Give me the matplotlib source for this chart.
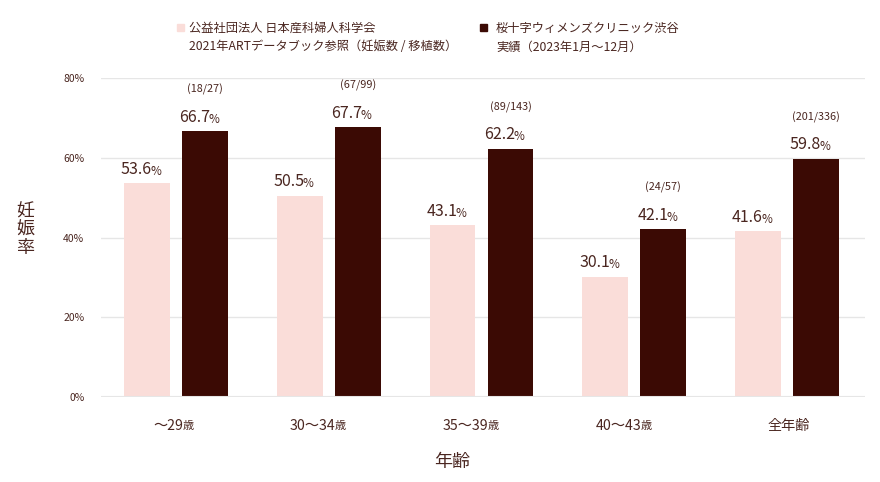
import numpy as np
import matplotlib
matplotlib.use('Agg')
import matplotlib.pyplot as plt
from matplotlib.patches import Rectangle

plt.rcParams['font.family'] = ['Noto Sans CJK JP', 'DejaVu Sans']

# data
categories = ['〜29', '30〜34', '35〜39', '40〜43', '全年齢']
cat_suffix = ['歳', '歳', '歳', '歳', '']
jsog_rate = [53.6, 50.5, 43.1, 30.1, 41.6]
clinic_rate = [66.7, 67.7, 62.2, 42.1, 59.8]
clinic_frac = ['(18/27)', '(67/99)', '(89/143)', '(24/57)', '(201/336)']
yticks = [0, 20, 40, 60, 80]

PINK = '#FADDD9'
DARK = '#3B0A04'
TXT = '#4A2620'
GRID = '#E6E6E6'

fig = plt.figure(figsize=(8.8, 4.82), dpi=100)
ax = fig.add_axes([0.1148, 0.1763, 0.8682, 0.6617])

x = np.arange(len(categories))
W = 0.30
ax.bar(x - 0.20, jsog_rate, W, color=PINK, zorder=2)
ax.bar(x + 0.18, clinic_rate, W, color=DARK, zorder=2)

ax.set_xlim(-0.5, len(categories) - 0.5)
ax.set_ylim(0, 80)
ax.set_yticks(yticks)
ax.set_yticklabels([f'{v}%' for v in yticks], fontsize=7.5, color=TXT)
ax.yaxis.grid(True, color=GRID, lw=1, zorder=0)
ax.tick_params(axis='y', length=0, pad=12)
ax.tick_params(axis='x', length=0)
ax.set_xticks(x)
ax.set_xticklabels([])
for s in ['top', 'right', 'left', 'bottom']:
    ax.spines[s].set_visible(False)


def two_part(xv, yv, big, small, fs_big, fs_small, dx=3.5, dy=0):
    # number + smaller suffix, centred roughly on xv
    ax.annotate(big, (xv, yv), xytext=(dx, dy), textcoords='offset points',
                ha='right', va='bottom', fontsize=fs_big, color=TXT)
    ax.annotate(small, (xv, yv), xytext=(dx - 1.2, dy), textcoords='offset points',
                ha='left', va='bottom', fontsize=fs_small, color=TXT)


for i in range(len(categories)):
    two_part(x[i] - 0.20, jsog_rate[i], f'{jsog_rate[i]:.1f}', '%', 11.5, 8.5, dy=4)
    two_part(x[i] + 0.18, clinic_rate[i], f'{clinic_rate[i]:.1f}', '%', 11.5, 8.5, dy=4)
    ax.annotate(clinic_frac[i], (x[i] + 0.18, clinic_rate[i]), xytext=(0, 26),
                textcoords='offset points', ha='center', va='bottom',
                fontsize=7.8, color=TXT)
    # category labels
    if cat_suffix[i]:
        ax.annotate(categories[i], (x[i], 0), xytext=(4, -16), textcoords='offset points',
                    ha='right', va='top', fontsize=10.2, color=TXT, annotation_clip=False)
        ax.annotate(cat_suffix[i], (x[i], 0), xytext=(3.5, -17), textcoords='offset points',
                    ha='left', va='top', fontsize=8, color=TXT, annotation_clip=False)
    else:
        ax.annotate(categories[i], (x[i], 0), xytext=(0, -16), textcoords='offset points',
                    ha='center', va='top', fontsize=10.2, color=TXT, annotation_clip=False)

ax.axhline(0, color=GRID, lw=1.5, zorder=3)

fig.text(452 / 880, 1 - 462 / 482, '年齢', ha='center', va='center', fontsize=13, color=TXT)
fig.text(25 / 880, 1 - 230 / 482, '妊\n娠\n率', ha='center', va='center', fontsize=13,
         color=TXT, linespacing=1.0)

# legend
fig.patches.append(Rectangle((177 / 880, 1 - 31 / 482), 7 / 880, 7 / 482,
                             transform=fig.transFigure, color=PINK))
fig.text(189 / 880, 1 - 22 / 482, '公益社団法人 日本産科婦人科学会\n2021年ARTデータブック参照（妊娠数 / 移植数）',
         ha='left', va='top', fontsize=8.8, color=TXT, linespacing=1.55)
fig.patches.append(Rectangle((480 / 880, 1 - 31 / 482), 7 / 880, 7 / 482,
                             transform=fig.transFigure, color=DARK))
fig.text(496 / 880, 1 - 22 / 482, '桜十字ウィメンズクリニック渋谷\n実績（2023年1月〜12月）',
         ha='left', va='top', fontsize=8.8, color=TXT, linespacing=1.55)

fig.savefig('out.png', dpi=100)
